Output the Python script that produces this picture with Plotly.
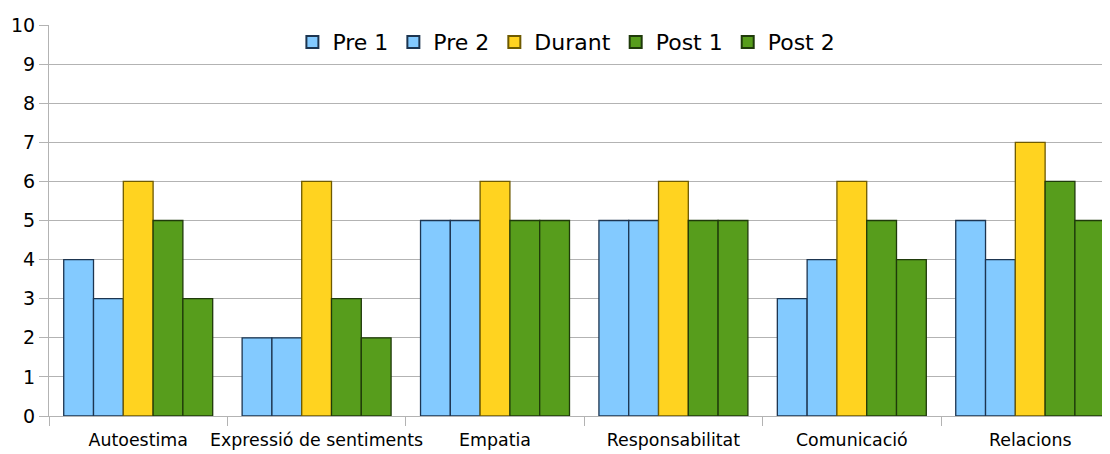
import plotly.graph_objects as go

categories = ["Autoestima", "Expressió de sentiments", "Empatia", "Responsabilitat", "Comunicació", "Relacions"]
series_names = ["Pre 1", "Pre 2", "Durant", "Post 1", "Post 2"]
pre1 = [4, 2, 5, 5, 3, 5]
pre2 = [3, 2, 5, 5, 4, 4]
durant = [6, 6, 6, 6, 6, 7]
post1 = [5, 3, 5, 5, 5, 6]
post2 = [3, 2, 5, 5, 4, 5]
y_ticks = list(range(0, 11))

values = [pre1, pre2, durant, post1, post2]
fills = ["#83CAFF", "#83CAFF", "#FFD320", "#579D1C", "#579D1C"]
edges = ["#1d3550", "#1d3550", "#6e5a00", "#1f3a0a", "#1f3a0a"]

fig = go.Figure()
for name, vals, fc, ec in zip(series_names, values, fills, edges):
    fig.add_trace(go.Bar(
        x=categories, y=vals, name=name,
        marker=dict(color=fc, line=dict(color=ec, width=1.3)),
    ))

fig.update_layout(
    width=1110, height=454,
    margin=dict(l=41, r=0, t=17, b=46),
    paper_bgcolor="white", plot_bgcolor="white",
    barmode="group", bargap=0.165, bargroupgap=0,
    font=dict(family="DejaVu Sans", color="black"),
    legend=dict(
        orientation="h", x=0.484, xanchor="center", y=1.01, yanchor="top",
        font=dict(size=22, family="DejaVu Sans"),
        bgcolor="white", itemsizing="constant", traceorder="normal",
        itemwidth=30, tracegroupgap=0,
    ),
    xaxis=dict(
        type="category", range=[-0.5, 5.492],
        showgrid=False, showline=True, linecolor="#b3b3b3", linewidth=1,
        ticks="outside", tickson="boundaries", ticklen=9, tickcolor="#b3b3b3",
        tickfont=dict(size=17.4, family="DejaVu Sans"), tickangle=0,
        ticklabelstandoff=8, automargin=False,
    ),
    yaxis=dict(
        range=[0, 10], tickvals=y_ticks,
        showgrid=True, gridcolor="#b3b3b3", gridwidth=1,
        showline=True, linecolor="#b3b3b3", linewidth=1,
        ticks="outside", ticklen=9, tickcolor="#b3b3b3",
        tickfont=dict(size=19, family="DejaVu Sans"),
        zeroline=False, automargin=False,
    ),
)

fig.write_html("out.html")
